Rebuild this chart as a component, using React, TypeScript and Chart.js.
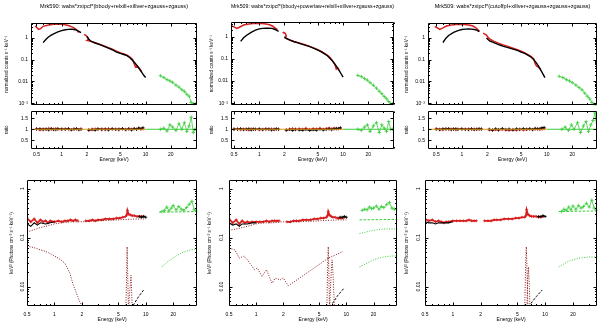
import React, { useEffect, useRef } from 'react';
import { Chart, registerables } from 'chart.js';
Chart.register(...registerables);

// ---------------- tick values / labels ----------------
const X_MAJOR = [0.5, 1, 2, 5, 10, 20];
const X_LABELS = ['0.5', '1', '2', '5', '10', '20'];
const X_MINOR = [0.6, 0.7, 0.8, 0.9, 3, 4, 6, 7, 8, 9, 30, 40];
const TOP_Y_TICKS = [0.001, 0.01, 0.1, 1];
const TOP_Y_LABELS = ['10⁻³', '0.01', '0.1', '1'];
const TOP_Y_MINOR = [0.002, 0.003, 0.004, 0.005, 0.006, 0.007, 0.008, 0.009, 0.02, 0.03, 0.04, 0.05, 0.06, 0.07, 0.08, 0.09, 0.2, 0.3, 0.4, 0.5, 0.6, 0.7, 0.8, 0.9, 2, 3, 4];
const RES_TICKS = [0.5, 1, 1.5];
const RES_LABELS = ['0.5', '1', '1.5'];
const BOT_Y_TICKS = [0.01, 0.1, 1];
const BOT_Y_LABELS = ['0.01', '0.1', '1'];
const BOT_Y_MINOR = [0.005, 0.006, 0.007, 0.008, 0.009, 0.02, 0.03, 0.04, 0.05, 0.06, 0.07, 0.08, 0.09, 0.2, 0.3, 0.4, 0.5, 0.6, 0.7, 0.8, 0.9];

const TITLE1 = 'Mrk590: wabs*zxipcf*(bbody+relxill+xillver+zgauss+zgauss)';
const TITLE2 = 'Mrk509: wabs*zxipcf*(bbody+powerlaw+relxill+xillver+zgauss+zgauss)';
const TITLE3 = 'Mrk509: wabs*zxipcf*(cutoffpl+xillver+zgauss+zgauss+zgauss)';
const Y_TOP_TITLE = 'normalized counts s⁻¹ keV⁻¹';
const Y_RES_TITLE = 'ratio';
const Y_BOT_TITLE = 'keV² (Photons cm⁻² s⁻¹ keV⁻¹)';
const X_TITLE = 'Energy (keV)';

// ---------------- panel 1 (top) ----------------
const u1BlackLoE = [0.6, 0.65, 0.7, 0.75, 0.8, 0.9, 1.0, 1.1, 1.2, 1.3, 1.4, 1.5, 1.6, 1.7];
const u1BlackLoV = [0.59, 0.85, 1.1, 1.3, 1.5, 1.85, 2.1, 2.3, 2.4, 2.45, 2.35, 2.2, 1.95, 1.7];
const u1BlackHiE = [2.0, 2.1, 2.2, 2.3, 2.5, 2.8, 3.2, 3.6, 4.0, 4.5, 5.0, 5.5, 6.0, 6.5, 7.0, 7.5, 8.0, 8.5, 9.0, 9.5, 10.0];
const u1BlackHiV = [1.15, 0.85, 0.72, 0.66, 0.57, 0.49, 0.4, 0.33, 0.28, 0.22, 0.19, 0.17, 0.15, 0.12, 0.09, 0.068, 0.05, 0.036, 0.026, 0.019, 0.015];
const u1RedLoE = [0.48, 0.5, 0.53, 0.56, 0.6, 0.7, 0.8, 0.9, 1.0, 1.1, 1.2, 1.3, 1.4, 1.5, 1.6];
const u1RedLoV = [3.4, 3.0, 2.4, 2.6, 3.3, 3.8, 4.1, 4.2, 4.1, 3.9, 3.6, 3.2, 2.8, 2.3, 1.7];
const u1RedHiE = [1.85, 1.95, 2.05, 2.1, 2.0, 2.15, 2.3, 2.5, 2.8, 3.2, 3.6, 4.0, 4.5, 5.0, 5.5, 6.0, 6.5, 7.0, 7.3, 7.6, 8.0, 8.5, 9.0];
const u1RedHiV = [1.4, 1.25, 1.0, 0.85, 0.75, 0.7, 0.64, 0.58, 0.5, 0.42, 0.35, 0.3, 0.24, 0.2, 0.18, 0.16, 0.13, 0.1, 0.065, 0.045, 0.05, 0.037, 0.028];
const u1GreenE = [15, 16.5, 18, 19.5, 21, 23, 25, 27, 29, 31, 33, 35, 37, 39];
const u1GreenV = [0.018, 0.015, 0.012, 0.0105, 0.009, 0.0068, 0.0055, 0.0042, 0.0035, 0.0026, 0.0021, 0.0011, 0.00095, 0.00095];

// residual energies shared by the three top panels
const resLoE = [0.5, 0.55, 0.6, 0.65, 0.7, 0.75, 0.8, 0.85, 0.9, 1.0, 1.1, 1.2, 1.3, 1.4, 1.5, 1.6, 1.7];
const resHiE = [2.1, 2.3, 2.5, 2.7, 3.0, 3.3, 3.6, 4.0, 4.4, 4.8, 5.3, 5.8, 6.3, 6.8, 7.3, 7.8, 8.3, 8.8, 9.3];
const resGreenE = [15, 16.5, 18, 19.5, 21, 23, 25, 27, 29, 31, 33, 35, 37, 39];
const unityLoE = [0.4, 10];
const unityHiE = [10, 41];
const unityV = [1, 1];

const r1RedLo = [1.03, 0.97, 1.02, 0.99, 1.04, 1.0, 0.98, 1.03, 1.0, 0.99, 1.02, 1.0, 0.98, 1.01, 1.02, 0.99, 1.01];
const r1BlackLo = [1.0, 1.02, 0.98, 1.01, 0.97, 1.03, 1.0, 0.98, 1.02, 1.01, 0.99, 1.03, 0.98, 1.0, 1.02, 0.98, 1.0];
const r1RedHi = [0.96, 0.98, 1.01, 0.99, 1.02, 0.98, 1.03, 1.0, 0.99, 1.02, 1.01, 0.98, 1.03, 1.0, 1.02, 0.99, 1.04, 1.01, 1.02];
const r1BlackHi = [0.97, 1.0, 0.96, 1.02, 0.98, 1.01, 0.97, 1.02, 1.0, 0.98, 1.03, 0.99, 1.01, 0.97, 1.03, 1.0, 1.05, 1.02, 1.07];
const r1Green = [1.0, 1.05, 0.92, 1.2, 1.1, 0.95, 1.25, 1.0, 1.3, 0.9, 1.15, 1.55, 0.85, 1.0];

// ---------------- panel 2 (top) ----------------
const u2BlackLoE = [0.6, 0.65, 0.7, 0.8, 0.9, 1.0, 1.1, 1.2, 1.3, 1.4, 1.5, 1.6, 1.7];
const u2BlackLoV = [0.62, 0.9, 1.15, 1.6, 2.0, 2.3, 2.4, 2.45, 2.45, 2.4, 2.25, 2.0, 1.75];
const u2RedLoE = [0.47, 0.5, 0.54, 0.58, 0.65, 0.75, 0.85, 0.95, 1.05, 1.15, 1.25, 1.35, 1.45, 1.55, 1.65];
const u2RedLoV = [3.1, 2.8, 2.4, 2.7, 3.4, 3.8, 4.0, 4.1, 4.0, 3.9, 3.7, 3.4, 3.0, 2.5, 2.1];
const u2BlackHiE = [2.0, 2.1, 2.2, 2.4, 2.6, 2.9, 3.2, 3.6, 4.0, 4.5, 5.0, 5.5, 6.0, 6.5, 7.0, 7.5, 8.0, 8.5, 9.0, 9.5, 10.0];
const u2BlackHiV = [1.0, 0.85, 0.78, 0.68, 0.6, 0.53, 0.47, 0.41, 0.36, 0.3, 0.25, 0.21, 0.17, 0.14, 0.105, 0.08, 0.058, 0.042, 0.03, 0.021, 0.015];
const u2RedHiE = [1.9, 1.95, 2.05, 2.1, 2.05, 1.98, 2.1, 2.3, 2.6, 3.0, 3.5, 4.0, 4.5, 5.0, 5.5, 6.0, 6.4, 6.8, 7.2, 7.6, 8.0, 8.3, 8.6, 9.0];
const u2RedHiV = [1.5, 1.6, 1.4, 1.1, 0.9, 0.95, 0.85, 0.72, 0.62, 0.53, 0.44, 0.37, 0.31, 0.26, 0.22, 0.18, 0.155, 0.13, 0.1, 0.075, 0.055, 0.035, 0.04, 0.03];
const u2GreenE = [15, 16.5, 18, 19.5, 21, 23, 25, 27, 29, 31, 33, 35, 37, 39];
const u2GreenV = [0.018, 0.016, 0.013, 0.011, 0.0085, 0.0065, 0.0048, 0.0035, 0.0027, 0.002, 0.0016, 0.0012, 0.00095, 0.00095];

const r2RedLo = [0.99, 1.02, 0.98, 1.01, 1.0, 0.97, 1.02, 0.99, 1.01, 0.98, 1.0, 1.02, 0.99, 1.01, 0.98, 1.0, 1.01];
const r2BlackLo = [1.01, 0.99, 1.03, 0.98, 1.0, 1.02, 0.97, 1.01, 0.99, 1.02, 0.98, 1.0, 1.01, 0.97, 1.0, 1.02, 0.99];
const r2RedHi = [0.97, 1.0, 1.03, 0.98, 1.02, 1.0, 1.04, 0.99, 1.03, 1.01, 1.04, 1.0, 1.03, 1.05, 1.02, 1.04, 1.01, 1.03, 1.05];
const r2BlackHi = [0.96, 0.99, 0.95, 1.0, 0.97, 0.96, 0.99, 0.95, 0.98, 0.96, 1.0, 0.97, 0.99, 1.01, 0.98, 1.02, 1.04, 1.03, 1.06];
const r2Green = [1.0, 0.95, 1.1, 1.2, 0.9, 1.15, 1.3, 0.85, 1.2, 1.05, 0.9, 1.35, 1.0, 1.0];

// ---------------- panel 3 (top) ----------------
const u3BlackLoE = [0.6, 0.65, 0.7, 0.8, 0.9, 1.0, 1.1, 1.2, 1.3, 1.4, 1.5, 1.6];
const u3BlackLoV = [0.6, 0.95, 1.25, 1.75, 2.1, 2.35, 2.45, 2.5, 2.45, 2.35, 2.2, 1.9];
const u3RedLoE = [0.48, 0.5, 0.55, 0.6, 0.66, 0.75, 0.85, 0.95, 1.05, 1.15, 1.25, 1.35, 1.45, 1.55, 1.62];
const u3RedLoV = [3.2, 3.0, 2.4, 2.8, 3.4, 3.8, 4.0, 4.1, 4.0, 3.9, 3.7, 3.4, 2.9, 2.3, 1.9];
const u3BlackHiE = [1.95, 2.05, 2.15, 2.3, 2.5, 2.8, 3.1, 3.5, 4.0, 4.5, 5.0, 5.5, 6.0, 6.5, 7.0, 7.5, 8.0, 8.5, 9.0, 9.5];
const u3BlackHiV = [0.97, 0.8, 0.7, 0.62, 0.55, 0.46, 0.4, 0.35, 0.3, 0.26, 0.22, 0.19, 0.16, 0.13, 0.1, 0.072, 0.05, 0.033, 0.022, 0.015];
const u3RedHiE = [1.78, 1.85, 1.95, 2.05, 2.2, 2.4, 2.7, 3.0, 3.5, 4.0, 4.5, 5.0, 5.5, 6.0, 6.5, 7.0, 7.3, 7.6, 8.0, 8.5];
const u3RedHiV = [1.6, 1.5, 1.3, 1.0, 0.8, 0.68, 0.56, 0.48, 0.4, 0.33, 0.28, 0.24, 0.2, 0.165, 0.14, 0.11, 0.065, 0.05, 0.045, 0.035];
const u3GreenE = [14, 15.5, 17, 18.5, 20, 22, 24, 26, 28, 30, 32, 34, 36, 38];
const u3GreenV = [0.017, 0.015, 0.012, 0.0105, 0.0088, 0.0068, 0.0052, 0.0041, 0.0029, 0.0021, 0.0016, 0.0011, 0.00088, 0.00085];

const r3RedLo = [1.02, 1.0, 0.98, 1.03, 0.99, 1.01, 1.02, 0.98, 1.0, 1.01, 0.99, 1.02, 1.0, 0.98, 1.01, 1.0, 1.02];
const r3BlackLo = [1.0, 0.98, 1.02, 1.0, 1.03, 0.98, 1.0, 1.02, 0.99, 1.01, 1.0, 0.98, 1.02, 1.0, 0.99, 1.02, 1.0];
const r3RedHi = [0.97, 0.95, 0.99, 0.96, 1.0, 0.97, 0.95, 0.99, 0.96, 1.0, 0.97, 0.99, 1.01, 0.98, 1.0, 1.02, 0.99, 1.01, 1.03];
const r3BlackHi = [1.0, 0.97, 1.02, 0.98, 1.03, 0.99, 1.01, 0.97, 1.02, 0.99, 1.03, 1.0, 1.02, 0.99, 1.04, 1.01, 1.03, 1.06, 1.08];
const r3Green = [1.0, 1.1, 0.95, 1.2, 1.0, 1.3, 0.85, 1.15, 1.35, 0.9, 1.2, 1.4, 1.75, 1.0];

// ---------------- bottom row (unfolded spectra) ----------------
const bLoE = [0.5, 0.55, 0.6, 0.65, 0.7, 0.75, 0.8, 0.85, 0.9, 1.0, 1.1, 1.2, 1.3, 1.4, 1.5, 1.6, 1.7, 1.8];
const bHiE = [2.2, 2.4, 2.6, 2.8, 3.0, 3.3, 3.6, 4.0, 4.4, 4.8, 5.2, 5.6, 6.0, 6.2, 6.3, 6.5, 6.8, 7.1, 7.5, 8.0, 8.5, 9.0, 9.5];
const bGreenE = [15, 16, 17, 18, 19, 20, 21.5, 23, 24.5, 26, 28, 30, 32, 34, 36];
const bBlackLoE = [0.5, 0.55, 0.6, 0.65, 0.7, 0.8, 0.9, 1.0];
const bBlackTailE = [8.5, 9.0, 9.5, 10.0];

const b4RedLo = [0.25, 0.21, 0.24, 0.2, 0.23, 0.21, 0.22, 0.2, 0.22, 0.21, 0.22, 0.21, 0.22, 0.22, 0.23, 0.22, 0.23, 0.22];
const b4RedHi = [0.22, 0.22, 0.23, 0.22, 0.23, 0.23, 0.24, 0.24, 0.24, 0.25, 0.25, 0.26, 0.27, 0.29, 0.36, 0.3, 0.29, 0.28, 0.28, 0.27, 0.27, 0.27, 0.27];
const b4BlackLo = [0.19, 0.17, 0.2, 0.18, 0.2, 0.19, 0.2, 0.21];
const b4BlackTail = [0.27, 0.26, 0.27, 0.26];
const b4Green = [0.34, 0.36, 0.42, 0.35, 0.4, 0.45, 0.37, 0.43, 0.38, 0.36, 0.41, 0.48, 0.55, 0.37, 0.35];
const c4PowE = [0.5, 0.6, 0.7, 0.8, 0.9, 1.0, 1.2, 1.5, 2.0, 3.0, 5.0, 8.0, 10.0];
const c4PowV = [0.13, 0.145, 0.16, 0.17, 0.18, 0.19, 0.2, 0.21, 0.21, 0.22, 0.23, 0.24, 0.24];
const c4BbE = [0.5, 0.6, 0.7, 0.8, 0.9, 1.0, 1.15, 1.3, 1.47, 1.6, 1.8, 1.9, 2.1];
const c4BbV = [0.067, 0.062, 0.056, 0.052, 0.047, 0.042, 0.036, 0.03, 0.019, 0.011, 0.0062, 0.0048, 0.0036];
const c4LowE = [0.5, 0.505];
const c4LowV = [0.065, 0.001];
const c4FeE = [5.9, 6.1, 6.2, 6.25, 6.3, 6.4, 6.5, 6.7];
const c4FeV = [0.001, 0.006, 0.03, 0.065, 0.03, 0.008, 0.002, 0.001];
const c4Fe2E = [6.4, 6.6, 6.8, 6.9, 7.0, 7.2];
const c4Fe2V = [0.002, 0.006, 0.012, 0.017, 0.008, 0.002];
const c4ReflE = [6.9, 7.5, 8.0, 8.5, 9.0, 9.5];
const c4ReflV = [0.0035, 0.0045, 0.0055, 0.0065, 0.0075, 0.0085];
const c4HardE = [15, 17, 19, 21, 23, 25, 27, 30, 33, 36];
const c4HardV = [0.025, 0.031, 0.036, 0.041, 0.045, 0.049, 0.052, 0.055, 0.057, 0.058];
const c4ModE = [14, 37];
const c4ModV = [0.33, 0.34];

const b5RedLo = [0.24, 0.2, 0.23, 0.19, 0.22, 0.2, 0.21, 0.2, 0.21, 0.21, 0.21, 0.21, 0.22, 0.21, 0.22, 0.22, 0.22, 0.22];
const b5RedHi = [0.21, 0.21, 0.22, 0.22, 0.22, 0.23, 0.23, 0.23, 0.24, 0.24, 0.25, 0.25, 0.26, 0.28, 0.34, 0.29, 0.27, 0.26, 0.26, 0.25, 0.25, 0.25, 0.26];
const b5BlackLo = [0.2, 0.18, 0.19, 0.17, 0.19, 0.19, 0.2, 0.2];
const b5BlackTail = [0.26, 0.26, 0.27, 0.26];
const b5Green = [0.36, 0.38, 0.37, 0.42, 0.39, 0.4, 0.44, 0.38, 0.43, 0.41, 0.47, 0.52, 0.4, 0.38, 0.38];
const c5PowV = [0.14, 0.15, 0.16, 0.17, 0.18, 0.19, 0.2, 0.2, 0.21, 0.21, 0.22, 0.23, 0.23];
const c5JagE = [0.5, 0.55, 0.58, 0.62, 0.65, 0.73, 0.8, 0.85, 0.96, 1.03, 1.16, 1.3, 1.5, 1.63, 1.85, 2.0, 2.27, 6.3, 9.2];
const c5JagV = [0.061, 0.058, 0.056, 0.045, 0.038, 0.042, 0.035, 0.03, 0.022, 0.024, 0.016, 0.022, 0.0117, 0.0148, 0.0137, 0.015, 0.0103, 0.038, 0.052];
const c5FeE = [5.9, 6.1, 6.2, 6.3, 6.4, 6.5, 6.7];
const c5FeV = [0.001, 0.005, 0.025, 0.065, 0.02, 0.004, 0.001];
const c5Fe2E = [6.4, 6.6, 6.8, 6.95, 7.1, 7.3, 7.5];
const c5Fe2V = [0.001, 0.006, 0.02, 0.035, 0.02, 0.006, 0.001];
const c5ReflE = [7.0, 8.0, 9.3];
const c5ReflV = [0.0045, 0.0065, 0.009];
const c5ModE = [14, 37];
const c5ModV = [0.23, 0.235];
const c5SoftE = [14, 18, 22, 26, 30, 37];
const c5SoftV = [0.12, 0.135, 0.145, 0.15, 0.15, 0.15];
const c5HardE = [14, 17, 20, 24, 28, 32, 37];
const c5HardV = [0.025, 0.03, 0.035, 0.039, 0.041, 0.042, 0.042];

const b6RedLo = [0.24, 0.22, 0.23, 0.21, 0.22, 0.21, 0.2, 0.21, 0.21, 0.22, 0.22, 0.22, 0.22, 0.22, 0.23, 0.22, 0.22, 0.22];
const b6RedHi = [0.22, 0.22, 0.22, 0.23, 0.23, 0.23, 0.24, 0.24, 0.24, 0.25, 0.25, 0.26, 0.26, 0.28, 0.37, 0.3, 0.28, 0.27, 0.27, 0.27, 0.26, 0.26, 0.27];
const b6BlackLo = [0.21, 0.2, 0.2, 0.19, 0.2, 0.2, 0.2, 0.21];
const b6BlackTail = [0.27, 0.27, 0.28, 0.27];
const b6Green = [0.34, 0.38, 0.36, 0.42, 0.37, 0.44, 0.38, 0.45, 0.4, 0.43, 0.5, 0.42, 0.58, 0.4, 0.36];
const c6FeE = [5.9, 6.05, 6.15, 6.25, 6.35, 6.5, 6.7];
const c6FeV = [0.001, 0.006, 0.03, 0.065, 0.025, 0.004, 0.001];
const c6Fe2E = [6.3, 6.45, 6.6, 6.75, 6.9];
const c6Fe2V = [0.002, 0.012, 0.025, 0.01, 0.002];
const c6ReflE = [7.0, 8.0, 9.3];
const c6ReflV = [0.0045, 0.0062, 0.0085];
const c6HardE = [14, 16, 18, 20, 23, 26, 30, 37];
const c6HardV = [0.025, 0.029, 0.033, 0.035, 0.038, 0.039, 0.04, 0.04];
const c6ModE = [14, 37];
const c6ModV = [0.34, 0.35];

// ---------------- styles ----------------
const FONT = '"Liberation Sans", Arial, sans-serif';
const BLACK = '#000000';
const RED = '#d81e1e';
const GREEN = '#3ccc3c';
const ORANGE = '#e0a020';
const COMP = '#8e1a1a';
const DOT = [1, 1.5];
const DASH = [2.5, 1.5];

type Line = { e: number[]; v: number[]; c: string; w?: number; dash?: number[]; pts?: number };
interface Spec {
  x: number; y: number; w: number; h: number;
  pad: { left: number; right: number; top: number; bottom: number };
  yW: number; xH: number; showX: boolean;
  xMin: number; xMax: number;
  yLog: boolean; yMin: number; yMax: number;
  yTicks: number[]; yLabels: string[]; yMinor: number[];
  yTitle: string; yTitlePad: number; yTickPad: number; yRot: boolean;
  xTickPad: number; xTitlePad: number;
  title?: string; titleBottom?: number;
  lines: Line[];
}

const framePlugin = {
  id: 'frame',
  afterDatasetsDraw(chart: any, _args: any, o: any) {
    const { ctx, chartArea: a, scales } = chart;
    const xs = scales.x, ys = scales.y;
    const L = Math.round(a.left) + 0.5, R = Math.round(a.right) - 0.5;
    const T = Math.round(a.top) + 0.5, B = Math.round(a.bottom) - 0.5;
    ctx.save();
    ctx.strokeStyle = '#000';
    ctx.lineWidth = 1;
    ctx.setLineDash([]);
    ctx.beginPath();
    ctx.rect(L, T, R - L, B - T);
    const xt = (vals: number[], len: number) => vals.forEach((v) => {
      if (v <= xs.min || v >= xs.max) return;
      const p = Math.round(xs.getPixelForValue(v)) + 0.5;
      ctx.moveTo(p, B); ctx.lineTo(p, B - len);
      ctx.moveTo(p, T); ctx.lineTo(p, T + len);
    });
    const yt = (vals: number[], len: number) => vals.forEach((v) => {
      if (v <= ys.min || v >= ys.max) return;
      const p = Math.round(ys.getPixelForValue(v)) + 0.5;
      ctx.moveTo(L, p); ctx.lineTo(L + len, p);
      ctx.moveTo(R, p); ctx.lineTo(R - len, p);
    });
    xt(o.xMajor, 3); xt(o.xMinor, 1.5); yt(o.yMajor, 3); yt(o.yMinor, 1.5);
    ctx.stroke();
    ctx.restore();
  },
};

const noPad = (sc: any) => {
  sc.paddingTop = 0; sc.paddingBottom = 0; sc.paddingLeft = 0; sc.paddingRight = 0;
};

function buildConfig(s: Spec): any {
  const tickFont = { family: FONT, size: 5 };
  return {
    type: 'line',
    data: {
      datasets: s.lines.map((l) => ({
        data: l.e.map((x, i) => ({ x, y: l.v[i] })),
        borderColor: l.c,
        backgroundColor: l.c,
        borderWidth: l.w ?? 1,
        borderDash: l.dash ?? [],
        pointRadius: l.pts ?? 0,
        pointStyle: 'cross',
        pointBorderWidth: 0.8,
        pointHoverRadius: 0,
        tension: 0,
        fill: false,
      })),
    },
    options: {
      animation: false,
      responsive: false,
      devicePixelRatio: 1,
      events: [],
      layout: { padding: s.pad },
      plugins: {
        legend: { display: false },
        tooltip: { enabled: false },
        title: s.title
          ? { display: true, text: s.title, color: '#000', fullSize: false, font: { family: FONT, size: 5.6, weight: 'normal', lineHeight: 1.1 }, padding: { top: 3, bottom: s.titleBottom } }
          : { display: false },
        frame: { xMajor: X_MAJOR, xMinor: X_MINOR, yMajor: s.yTicks, yMinor: s.yMinor },
      },
      scales: {
        x: {
          type: 'logarithmic',
          min: s.xMin,
          max: s.xMax,
          display: s.showX,
          afterBuildTicks: (sc: any) => { sc.ticks = X_MAJOR.map((v) => ({ value: v })); },
          afterFit: (sc: any) => { sc.height = s.xH; noPad(sc); },
          grid: { display: false, drawTicks: false },
          border: { display: false },
          ticks: {
            autoSkip: false, maxRotation: 0, minRotation: 0, padding: s.xTickPad, color: '#000', font: tickFont,
            callback: (v: number) => { const i = X_MAJOR.indexOf(v); return i >= 0 ? X_LABELS[i] : ''; },
          },
          title: { display: true, text: X_TITLE, color: '#000', font: { family: FONT, size: 5 }, padding: { top: 0, bottom: s.xTitlePad } },
        },
        y: {
          type: s.yLog ? 'logarithmic' : 'linear',
          min: s.yMin,
          max: s.yMax,
          afterBuildTicks: (sc: any) => { sc.ticks = s.yTicks.map((v) => ({ value: v })); },
          afterFit: (sc: any) => { sc.width = s.yW; noPad(sc); },
          grid: { display: false, drawTicks: false },
          border: { display: false },
          ticks: {
            autoSkip: false, color: '#000', font: tickFont, padding: s.yTickPad,
            minRotation: s.yRot ? 90 : 0, maxRotation: s.yRot ? 90 : 0,
            crossAlign: s.yRot ? 'center' : 'near',
            callback: (v: number) => { const i = s.yTicks.indexOf(v); return i >= 0 ? s.yLabels[i] : ''; },
          },
          title: { display: true, text: s.yTitle, color: '#000', font: { family: FONT, size: 4.6 }, padding: { top: s.yTitlePad, bottom: 0 } },
        },
      },
    },
    plugins: [framePlugin],
  };
}

// ---------------- panel specs ----------------
function upper(x: number, yW: number, padR: number, xMin: number, xMax: number, titlePad: number, title: string, titleBottom: number, lines: Line[]): Spec {
  return {
    x, y: 0, w: 200, h: 108, pad: { left: 0, right: padR, top: 0, bottom: 0 },
    yW, xH: 0, showX: false, xMin, xMax, yLog: true, yMin: 8e-4, yMax: 4.6,
    yTicks: TOP_Y_TICKS, yLabels: TOP_Y_LABELS, yMinor: TOP_Y_MINOR,
    yTitle: Y_TOP_TITLE, yTitlePad: titlePad, yTickPad: 3, yRot: false, xTickPad: 0, xTitlePad: 0,
    title, titleBottom, lines,
  };
}
function ratio(x: number, yW: number, padR: number, xMin: number, xMax: number, titlePad: number, lines: Line[]): Spec {
  return {
    x, y: 108, w: 200, h: 62, pad: { left: 0, right: padR, top: 0, bottom: 0 },
    yW, xH: 21, showX: true, xMin, xMax, yLog: false, yMin: 0.1, yMax: 1.85,
    yTicks: RES_TICKS, yLabels: RES_LABELS, yMinor: [],
    yTitle: Y_RES_TITLE, yTitlePad: titlePad, yTickPad: 3, yRot: false, xTickPad: 2.5, xTitlePad: 7.5,
    lines,
  };
}
function lower(x: number, yW: number, padR: number, titlePad: number, tickPad: number, lines: Line[]): Spec {
  return {
    x, y: 170, w: 200, h: 157, pad: { left: 0, right: padR, top: 10, bottom: 0 },
    yW, xH: 21, showX: true, xMin: 0.5, xMax: 36.8, yLog: true, yMin: 0.004, yMax: 1.5,
    yTicks: BOT_Y_TICKS, yLabels: BOT_Y_LABELS, yMinor: BOT_Y_MINOR,
    yTitle: Y_BOT_TITLE, yTitlePad: titlePad, yTickPad: tickPad, yRot: true, xTickPad: 5.3, xTitlePad: 4,
    lines,
  };
}

const dataLines = (bl: number[], bh: number[], rl: number[], rh: number[], gE: number[], gV: number[], bhE: number[], rlE: number[], rhE: number[], blE: number[]): Line[] => [
  { e: blE, v: bl, c: BLACK, w: 1.4 },
  { e: bhE, v: bh, c: BLACK, w: 1.4 },
  { e: rlE, v: rl, c: RED, w: 1.5 },
  { e: rhE, v: rh, c: RED, w: 1.5 },
  { e: gE, v: gV, c: GREEN, w: 0.8, pts: 1.8 },
];
const ratioLines = (bl: number[], bh: number[], rl: number[], rh: number[], g: number[]): Line[] => [
  { e: unityLoE, v: unityV, c: ORANGE, w: 1 },
  { e: unityHiE, v: unityV, c: GREEN, w: 1 },
  { e: resLoE, v: bl, c: BLACK, w: 1.2, pts: 1.6 },
  { e: resHiE, v: bh, c: BLACK, w: 1.2, pts: 1.6 },
  { e: resLoE, v: rl, c: RED, w: 1.4, pts: 1.6 },
  { e: resHiE, v: rh, c: RED, w: 1.4, pts: 1.6 },
  { e: resGreenE, v: g, c: GREEN, w: 0.8, pts: 1.8 },
];
const bottomData = (bl: number[], bt: number[], rl: number[], rh: number[], g: number[]): Line[] => [
  { e: bBlackLoE, v: bl, c: BLACK, w: 1.1 },
  { e: bBlackTailE, v: bt, c: BLACK, w: 1, pts: 1.5 },
  { e: bLoE, v: rl, c: RED, w: 1.7, pts: 1.5 },
  { e: bHiE, v: rh, c: RED, w: 1.7, pts: 1.5 },
  { e: bGreenE, v: g, c: GREEN, w: 0.8, pts: 1.8 },
];

const SPECS: Spec[] = [
  upper(0, 31, 3, 0.43, 41, 4.2, TITLE1, 14, dataLines(u1BlackLoV, u1BlackHiV, u1RedLoV, u1RedHiV, u1GreenE, u1GreenV, u1BlackHiE, u1RedLoE, u1RedHiE, u1BlackLoE)),
  ratio(0, 31, 3, 0.43, 41, 4.2, ratioLines(r1BlackLo, r1BlackHi, r1RedLo, r1RedHi, r1Green)),
  upper(200, 31, 6, 0.46, 40.5, 8.9, TITLE2, 13, dataLines(u2BlackLoV, u2BlackHiV, u2RedLoV, u2RedHiV, u2GreenE, u2GreenV, u2BlackHiE, u2RedLoE, u2RedHiE, u2BlackLoE)),
  ratio(200, 31, 6, 0.46, 40.5, 8.9, ratioLines(r2BlackLo, r2BlackHi, r2RedLo, r2RedHi, r2Green)),
  upper(400, 28, 3, 0.4, 39, 3.9, TITLE3, 14, dataLines(u3BlackLoV, u3BlackHiV, u3RedLoV, u3RedHiV, u3GreenE, u3GreenV, u3BlackHiE, u3RedLoE, u3RedHiE, u3BlackLoE)),
  ratio(400, 28, 3, 0.4, 39, 3.9, ratioLines(r3BlackLo, r3BlackHi, r3RedLo, r3RedHi, r3Green)),
  lower(0, 27, 1, 9.2, 0, [
    { e: c4PowE, v: c4PowV, c: COMP, dash: DOT },
    { e: c4BbE, v: c4BbV, c: COMP, dash: DOT },
    { e: c4LowE, v: c4LowV, c: RED, dash: DOT },
    { e: c4FeE, v: c4FeV, c: COMP, dash: DOT },
    { e: c4Fe2E, v: c4Fe2V, c: COMP, dash: DOT },
    { e: c4ReflE, v: c4ReflV, c: BLACK, dash: DASH },
    { e: c4HardE, v: c4HardV, c: GREEN, dash: DOT },
    { e: c4ModE, v: c4ModV, c: GREEN, dash: DASH },
    ...bottomData(b4BlackLo, b4BlackTail, b4RedLo, b4RedHi, b4Green),
  ]),
  lower(200, 29, 1, 7.2, 3, [
    { e: c4PowE, v: c5PowV, c: COMP, dash: DOT },
    { e: c5JagE, v: c5JagV, c: COMP, dash: DOT },
    { e: c4LowE, v: c4LowV, c: RED, dash: DOT },
    { e: c5FeE, v: c5FeV, c: COMP, dash: DOT },
    { e: c5Fe2E, v: c5Fe2V, c: COMP, dash: DOT },
    { e: c5ReflE, v: c5ReflV, c: BLACK, dash: DASH },
    { e: c5ModE, v: c5ModV, c: GREEN, dash: DASH },
    { e: c5SoftE, v: c5SoftV, c: GREEN, dash: DOT },
    { e: c5HardE, v: c5HardV, c: GREEN, dash: DOT },
    ...bottomData(b5BlackLo, b5BlackTail, b5RedLo, b5RedHi, b5Green),
  ]),
  lower(400, 25, 2, 3.9, 2, [
    { e: c4LowE, v: c4LowV, c: RED, dash: DOT },
    { e: c6FeE, v: c6FeV, c: COMP, dash: DOT },
    { e: c6Fe2E, v: c6Fe2V, c: COMP, dash: DOT },
    { e: c6ReflE, v: c6ReflV, c: BLACK, dash: DASH },
    { e: c6HardE, v: c6HardV, c: GREEN, dash: DOT },
    { e: c6ModE, v: c6ModV, c: GREEN, dash: DASH },
    ...bottomData(b6BlackLo, b6BlackTail, b6RedLo, b6RedHi, b6Green),
  ]),
];

function Panel({ s }: { s: Spec }) {
  const ref = useRef<HTMLCanvasElement | null>(null);
  useEffect(() => {
    if (!ref.current) return;
    const chart = new Chart(ref.current, buildConfig(s));
    return () => chart.destroy();
  }, [s]);
  return (
    <canvas
      ref={ref}
      width={s.w}
      height={s.h}
      style={{ position: 'absolute', left: s.x, top: s.y, width: s.w, height: s.h }}
    />
  );
}

export default function App() {
  return (
    <div style={{ position: 'absolute', left: 0, top: 0, width: 600, height: 327, background: '#fff', overflow: 'hidden' }}>
      {SPECS.map((s, i) => (
        <Panel key={i} s={s} />
      ))}
    </div>
  );
}
